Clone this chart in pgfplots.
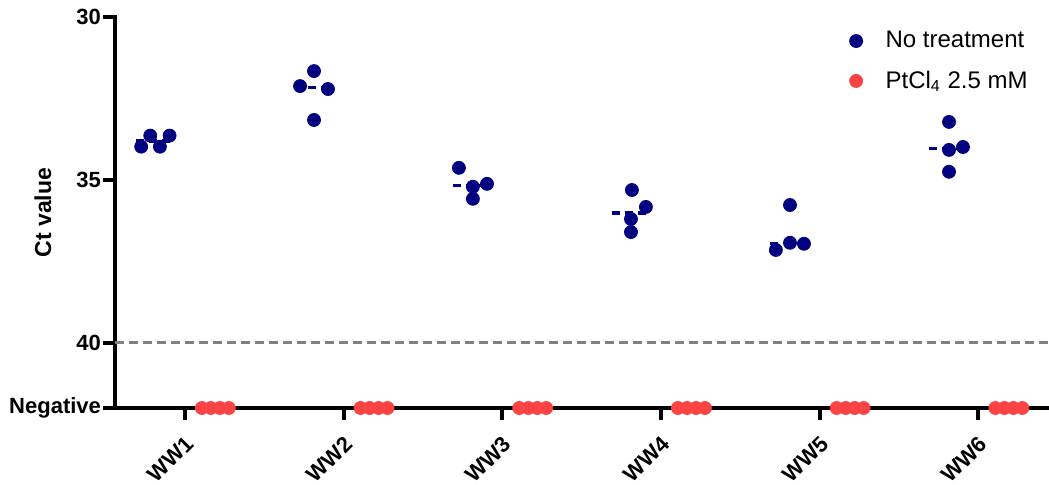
\documentclass[border=0pt]{standalone}
\usepackage{pgfplots}
\pgfplotsset{compat=1.18}
\usepackage{fontspec}
\setmainfont{Liberation Sans}
\definecolor{navyc}{RGB}{0,0,128}
\definecolor{redc}{RGB}{250,68,68}
\definecolor{greyc}{RGB}{128,128,128}
\begin{document}
\begin{tikzpicture}
\begin{axis}[
  at={(0,0)}, anchor=south west,
  scale only axis, width=467pt, height=195.5pt,
  xmin=-0.44, xmax=5.445, ymin=30, ymax=42, y dir=reverse,
  axis x line=bottom, axis y line=left,
  axis line style={-, line width=2pt, line cap=rect},
  tick style={line width=2pt, black},
  major tick length=6pt, tick align=outside,
  clip=false,
  /pgf/number format/assume math mode=true,
  tick label style={font=\bfseries\fontsize{11}{13}\selectfont},
  ytick={30,35,40,42}, yticklabels={30,35,40,Negative},
  yticklabel style={xshift=2.5pt},
  xtick={0,1,2,3,4,5}, xticklabels={WW1,WW2,WW3,WW4,WW5,WW6},
  xticklabel style={rotate=45, anchor=north east, xshift=-2pt, yshift=-1.5pt},
  ylabel={Ct value},
  ylabel style={font=\bfseries\fontsize{11.5}{13}\selectfont, at={(axis description cs:-0.0771,0.5)}, anchor=center},
  legend style={at={(0.7797,0.985)}, anchor=north west, draw=none, fill=none,
    font=\fontsize{12}{14}\selectfont, row sep=6pt},
  legend image code/.code={\draw[#1] plot coordinates {(0pt,0pt)}; \path[draw=none] (0pt,0pt) -- (12.75pt,0pt);},
  legend cell align=left,
]
% reference line at Ct = 40
\addplot[greyc, line width=1.5pt, dash pattern=on 4.5pt off 2.5pt, forget plot] coordinates {(-0.44,40) (5.445,40)};
% medians
\addplot[navyc, line width=1.75pt, dash pattern=on 4pt off 2.6pt, forget plot] coordinates {(-0.31,33.81) (-0.065,33.81)};
\addplot[navyc, line width=1.75pt, dash pattern=on 4pt off 2.6pt, forget plot] coordinates {(0.69,32.165) (0.935,32.165)};
\addplot[navyc, line width=1.75pt, dash pattern=on 4pt off 2.6pt, forget plot] coordinates {(1.69,35.165) (1.935,35.165)};
\addplot[navyc, line width=1.75pt, dash pattern=on 4pt off 2.6pt, forget plot] coordinates {(2.69,36.015) (2.935,36.015)};
\addplot[navyc, line width=1.75pt, dash pattern=on 4pt off 2.6pt, forget plot] coordinates {(3.69,36.945) (3.935,36.945)};
\addplot[navyc, line width=1.75pt, dash pattern=on 4pt off 2.6pt, forget plot] coordinates {(4.69,34.035) (4.935,34.035)};
% No treatment
\addplot[only marks, mark=*, mark size=3.25pt, navyc] coordinates {
  (-0.275,33.98) (-0.218,33.64) (-0.157,33.98) (-0.096,33.64)
  (0.726,32.12) (0.814,31.66) (0.902,32.21) (0.814,33.16)
  (1.727,34.63) (1.815,35.21) (1.904,35.12) (1.815,35.58)
  (2.817,35.31) (2.905,35.83) (2.811,36.20) (2.811,36.60)
  (3.813,35.77) (3.813,36.93) (3.901,36.96) (3.724,37.15)
  (4.815,33.22) (4.815,34.08) (4.903,33.99) (4.815,34.75)
};
\addlegendentry{No treatment}
% PtCl4 2.5 mM (all negative)
\addplot[only marks, mark=*, mark size=3.25pt, redc] coordinates {
  (0.107,42) (0.164,42) (0.221,42) (0.277,42)
  (1.107,42) (1.164,42) (1.221,42) (1.277,42)
  (2.107,42) (2.164,42) (2.221,42) (2.277,42)
  (3.107,42) (3.164,42) (3.221,42) (3.277,42)
  (4.107,42) (4.164,42) (4.221,42) (4.277,42)
  (5.107,42) (5.164,42) (5.221,42) (5.277,42)
};
\addlegendentry{PtCl\textsubscript{4} 2.5 mM}
\end{axis}
\pgfresetboundingbox
\useasboundingbox (-57.5pt,-38.5pt) rectangle (467pt,204pt);
\end{tikzpicture}
\end{document}
